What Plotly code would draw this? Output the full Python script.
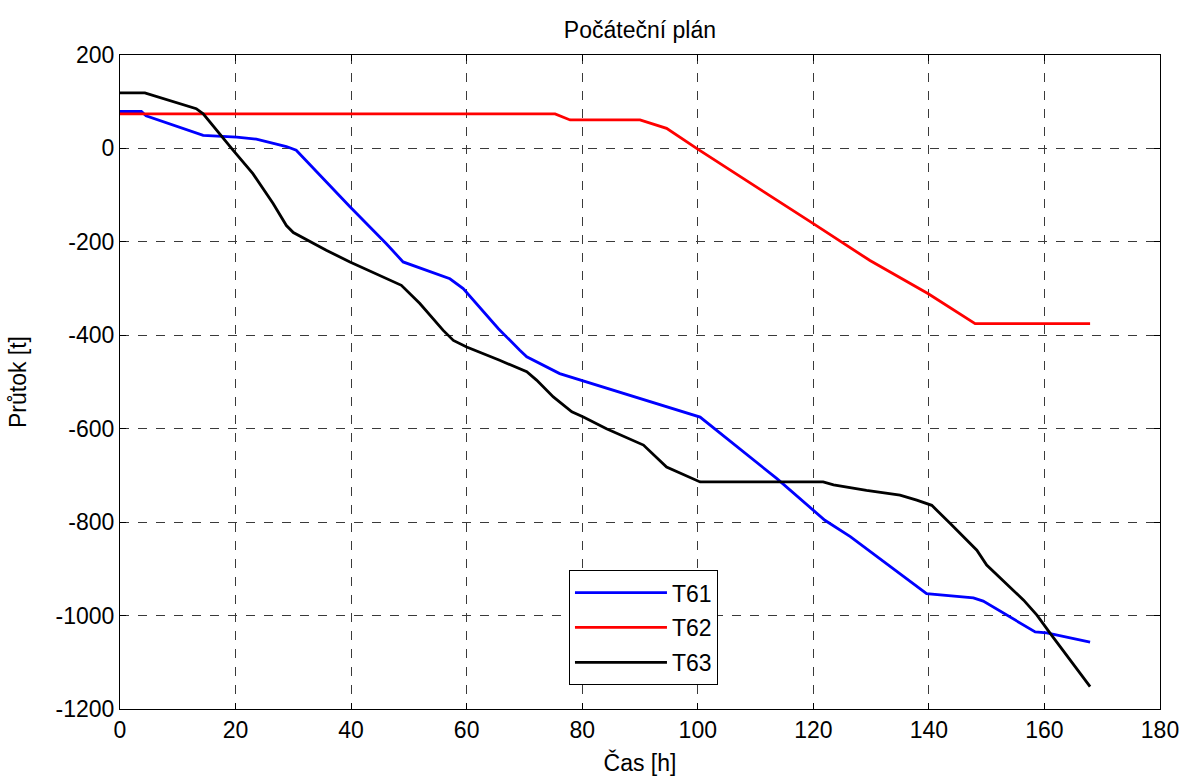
import plotly.graph_objects as go

# Data
t61_x = [0, 3.7, 4.5, 14.4, 20.2, 23.6, 28.8, 30.5, 39.8, 46.1, 49, 57.1, 59.4, 65.5, 69.2, 70.4,
         76.1, 100.4, 113.7, 120, 122, 126.4, 135, 139.6, 147.7, 149.4, 158.4, 160.4, 167.9]
t61_y = [79, 79, 70, 28, 24, 20, 4, -4, -125, -204, -243, -279, -300, -386, -432, -446,
         -482, -575, -707, -774, -796, -831, -910, -953, -962, -969, -1035, -1037, -1057]

t62_x = [0, 75.3, 77.9, 90, 94.6, 99.8, 120, 129.8, 139.9, 148, 167.9]
t62_y = [74, 74, 61, 61, 43, 0, -161, -240, -311, -375, -375]

t63_x = [0, 4.3, 13.2, 14.4, 19.6, 23, 26.5, 28.8, 30, 35.7, 39.8, 44.4, 48.7, 51.9, 55.9, 57.7,
         60, 65.6, 70.4, 72.1, 75, 78.2, 80.2, 84.2, 88.8, 90.6, 94.6, 100.4, 121.7, 123.5,
         129.2, 135, 137.9, 140.5, 143.7, 148.3, 150, 156.4, 158.7, 161, 167.9]
t63_y = [119, 119, 85, 74, -4, -54, -118, -165, -180, -218, -243, -268, -293, -332, -389, -411,
         -425, -453, -478, -496, -532, -564, -575, -600, -625, -635, -682, -714, -714, -720,
         -732, -742, -753, -764, -803, -860, -892, -967, -999, -1038, -1152]

series_names = ["T61", "T62", "T63"]
series_colors = ["#0000FF", "#FF0000", "#000000"]

x_ticks = [0, 20, 40, 60, 80, 100, 120, 140, 160, 180]
y_ticks = [200, 0, -200, -400, -600, -800, -1000, -1200]
y_tick_labels = ["200", "0", "-200", "-400", "-600", "-800", "-1000", "-1200"]

FONT = "Liberation Sans, Arial, Helvetica, sans-serif"
FS = 23

fig = go.Figure()
for name, xs, ys, col in zip(series_names, [t61_x, t62_x, t63_x], [t61_y, t62_y, t63_y], series_colors):
    fig.add_trace(go.Scatter(x=xs, y=ys, mode="lines", name=name, legendgroup=name,
                             line=dict(color=col, width=2.8)))

axis_common = dict(
    showline=True, linecolor="black", linewidth=1, mirror="ticks",
    ticks="inside", ticklen=6, tickcolor="black",
    showgrid=True, gridcolor="#3a3a3a", griddash="dash", gridwidth=1,
    zeroline=False, automargin=False,
    tickfont=dict(family=FONT, size=FS, color="black"),
)

fig.update_layout(
    width=1184, height=776,
    paper_bgcolor="white", plot_bgcolor="white",
    margin=dict(l=120, r=24, t=55, b=67),
    font=dict(family=FONT, size=FS, color="black"),
    title=dict(text="Počáteční plán", x=0.5405, xanchor="center", y=0.962, yanchor="middle",
               font=dict(family=FONT, size=FS, color="black")),
    xaxis=dict(range=[0, 180], tickvals=x_ticks,
               title=dict(text="Čas [h]", standoff=16, font=dict(family=FONT, size=FS)),
               **axis_common),
    yaxis=dict(range=[-1200, 200], tickvals=y_ticks, ticktext=y_tick_labels,
               title=dict(text="Průtok [t]", standoff=22, font=dict(family=FONT, size=FS)),
               **axis_common),
    legend=dict(x=0.4317, y=0.2124, xanchor="left", yanchor="top",
                bordercolor="black", borderwidth=1, bgcolor="white",
                font=dict(family=FONT, size=FS, color="black"),
                itemwidth=92, tracegroupgap=2),
    showlegend=True,
)

fig.write_html("out.html")
